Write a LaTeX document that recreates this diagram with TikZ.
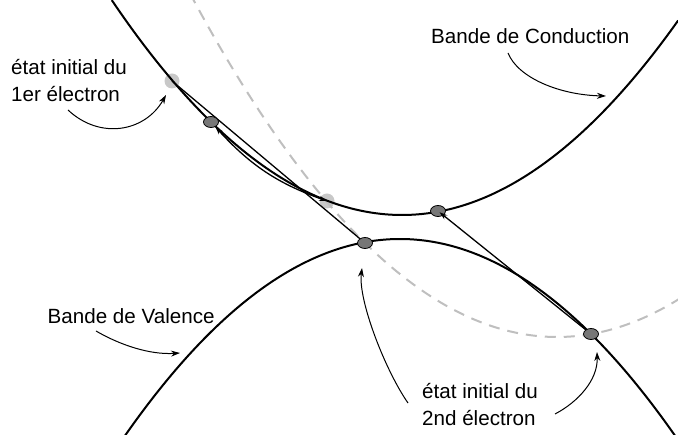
\documentclass[tikz,border=0pt]{standalone}
\usepackage{fontspec}
\setmainfont{Liberation Sans}
\usetikzlibrary{arrows.meta,shapes.geometric,calc}
\definecolor{dashgray}{HTML}{BFBFBF}
\definecolor{lightdotgray}{HTML}{C8C8C8}
\definecolor{darkdotgray}{HTML}{777777}
\pgfdeclarelayer{dotlayer}
\pgfdeclarelayer{linelayer}
\pgfsetlayers{dotlayer,linelayer,main}
\begin{document}
\begin{tikzpicture}[x=1pt,y=-1pt,
  band/.style={line width=2pt,line cap=round},
  shifted/.style={line width=2pt,color=dashgray,dash pattern=on 11pt off 8pt},
  trans/.style={line width=1.3pt},
  lightdot/.style={circle,fill=lightdotgray,inner sep=0pt,minimum size=15pt},
  darkdot/.style={ellipse,draw=black,line width=0.8pt,fill=darkdotgray,inner sep=0pt,minimum width=15pt,minimum height=11pt},
  lbl/.style={font=\fontsize{20.6}{27}\selectfont,align=left,inner sep=0pt,anchor=base west},
  note/.style={line width=1pt,-{Stealth[length=9pt,width=6pt]}},
  move/.style={line width=1.3pt,{Stealth[length=8pt,width=5pt]}-{Stealth[length=8pt,width=5pt]}},
  pump/.style={line width=1.3pt,-{Stealth[length=8pt,width=5pt]}},
]
\useasboundingbox (0,0) rectangle (678,435);

% dots
\begin{pgfonlayer}{dotlayer}
  \node[lightdot] (L1) at (172,81) {};
  \node[lightdot] (L2) at (327,201) {};
\end{pgfonlayer}
\node[darkdot] (C1) at (211,122) {};
\node[darkdot] (C2) at (438,211) {};
\node[darkdot] (V1) at (365,243) {};
\node[darkdot] (V2) at (591,334) {};

% bands and lines
\begin{pgfonlayer}{linelayer}
  \draw[shifted] plot[domain=190:680,samples=120] (\x,{337-(0.0505*(\x-557))^2});
  \draw[band] plot[domain=112:678,samples=140] (\x,{215-(0.0505*(\x-402))^2});
  \draw[band] plot[domain=120:680,samples=140] (\x,{239+(0.051*(\x-400))^2});
  \draw[trans] (L1.center) -- (V1.center);
\end{pgfonlayer}

% transitions
\draw[move] (C1) to[bend right=14] (L2.center);
\draw[pump, shorten >=2pt] (V2) -- (C2.center);

% labels (anchor = baseline of the last line)
\node[lbl] (lab1) at (11,102) {état initial du\\1er électron};
\node[lbl] (labC) at (431,44) {Bande de Conduction};
\node[lbl] (labV) at (47.5,324) {Bande de Valence};
\node[lbl] (lab2) at (422,426) {état initial du\\2nd électron};

% annotation arrows
\coordinate (a1s) at (68,110);
\coordinate (a1e) at ($(L1)+(-6,14)$);
\draw[note] (a1s) .. controls (100,140) and (145,132) .. (a1e);

\coordinate (a2s) at (508,53);
\coordinate (a2e) at (606,96);
\draw[note] (a2s) .. controls (518,78) and (560,95) .. (a2e);

\coordinate (a3s) at (96,331);
\coordinate (a3e) at (180,353);
\draw[note] (a3s) .. controls (120,345) and (150,355) .. (a3e);

\coordinate (a4s) at (408,403);
\coordinate (a4e) at ($(V1)+(-3,25)$);
\draw[note] (a4s) .. controls (385,370) and (358,300) .. (a4e);

\coordinate (a5s) at (555,414);
\coordinate (a5e) at ($(V2)+(6,18)$);
\draw[note] (a5s) .. controls (578,402) and (598,380) .. (a5e);
\end{tikzpicture}
\end{document}
